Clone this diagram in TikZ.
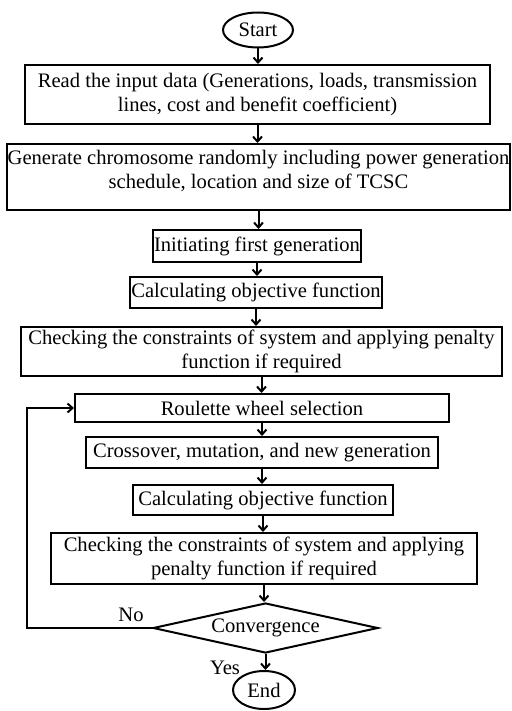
\documentclass[tikz,border=0pt]{standalone}
\usepackage{fontspec}
\setmainfont{Liberation Serif}
\usetikzlibrary{shapes.geometric,arrows.meta}
\begin{document}
\begin{tikzpicture}[x=1pt,y=-1pt,font=\fontsize{20.6}{23.5}\selectfont]
\tikzset{B/.style={rectangle,draw,line width=2pt,align=center,inner sep=1pt},
E/.style={ellipse,draw,line width=2pt,inner sep=1pt},
D/.style={diamond,draw,line width=2pt,aspect=4.5,inner sep=0pt},
A/.style={line width=2pt,-{Straight Barb[length=5pt,width=9pt]}}
}
\useasboundingbox (0,0) rectangle (511,711);

% Start and input data
\node(0)[E,minimum width=70,minimum height=35] at (258,30) {Start};
\node(1)[B,minimum width=465,minimum height=59] at (257.5,94.5) {Read the input data (Generations, loads, transmission\\ lines, cost and benefit coefficient)};
\node(2)[B,minimum width=503,minimum height=66] at (258.5,177) {\raisebox{0pt}[0pt][0pt]{\begin{tabular}{@{}c@{}}
Generate chromosome randomly including power generation\\
schedule, location and size of TCSC
\end{tabular}}};

% First generation
\node(3)[B,minimum width=208,minimum height=32] at (257,246) {Initiating first generation};
\node(4)[B,minimum width=252,minimum height=31] at (256,292.5) {Calculating objective function};
\node(5)[B,minimum width=481,minimum height=49] at (261.5,351.5) {Checking the constraints of system and applying penalty\\ function if required};

% Main loop
\node(6)[B,minimum width=374,minimum height=28] at (262,408) {Roulette wheel selection};
\node(7)[B,minimum width=352,minimum height=31] at (262,452.5) {Crossover, mutation, and new generation};
\node(8)[B,minimum width=260,minimum height=30] at (263,500) {Calculating objective function};
\node(9)[B,minimum width=426,minimum height=51] at (264,558.5) {Checking the constraints of system and applying\\ penalty function if required};
\node(10)[D,minimum width=225,minimum height=50] at (265.5,628) {Convergence};
\node(11)[E,minimum width=62,minimum height=38] at (264,690) {End};

% arrows
\foreach \a/\b in {0/1,1/2,2/3,3/4,4/5,5/6,6/7,7/8,8/9,9/10,10/11}
\draw[A] (\a.south) -- (\a.south |- \b.north);

% back to selection
\coordinate (c) at (27,628);
\draw[A] (10.west) -- (c) |- (6.west);

\node(no) at (131,615) {No};
\node(yes) at (225,668) {Yes};

\end{tikzpicture}
\end{document}
